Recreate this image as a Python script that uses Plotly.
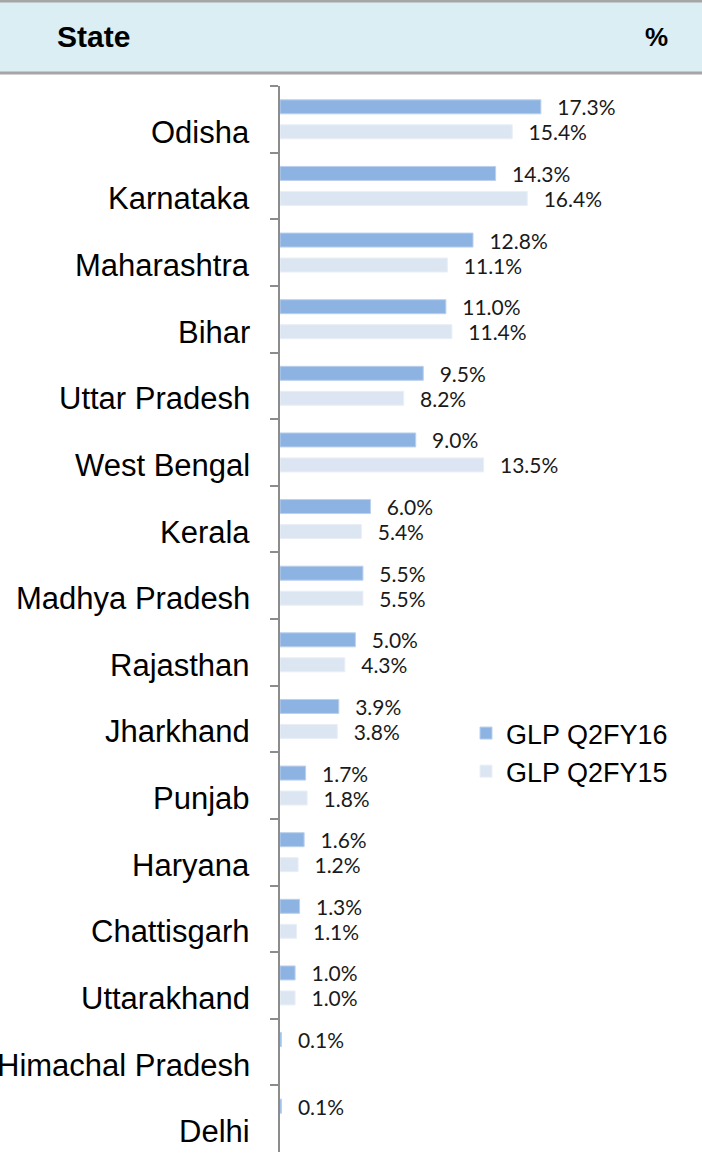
import plotly.graph_objects as go

states = ["Odisha", "Karnataka", "Maharashtra", "Bihar", "Uttar Pradesh", "West Bengal",
          "Kerala", "Madhya Pradesh", "Rajasthan", "Jharkhand", "Punjab", "Haryana",
          "Chattisgarh", "Uttarakhand", "Himachal Pradesh", "Delhi"]
glp_q2fy16 = [17.3, 14.3, 12.8, 11.0, 9.5, 9.0, 6.0, 5.5, 5.0, 3.9, 1.7, 1.6, 1.3, 1.0, 0.1, 0.1]
glp_q2fy15 = [15.4, 16.4, 11.1, 11.4, 8.2, 13.5, 5.4, 5.5, 4.3, 3.8, 1.8, 1.2, 1.1, 1.0, None, None]
series_names = ["GLP Q2FY16", "GLP Q2FY15"]

W, H = 702, 1153
ML, MR, MT, MB = 280, 0, 86, 1
PW, PH = W - ML - MR, H - MT - MB
X_MAX = PW / 15.08


def px_x(p):
    return (p - ML) / PW


def px_y(p):
    return (H - MB - p) / PH


LABEL_FONT = dict(family="Lato, Carlito, Calibri, sans-serif", size=21, color="#1a1a1a")
PAD = "\u00a0\u00a0\u2009"
ARIAL = "Liberation Sans, Arial, sans-serif"

fig = go.Figure()
fig.add_trace(go.Bar(
    y=states, x=glp_q2fy16, orientation="h", name=series_names[0],
    marker=dict(color="#8DB3E2", line=dict(color="#BBD0EC", width=1)),
    text=[PAD + f"{v:.1f}%" if v is not None else "" for v in glp_q2fy16],
    textposition="outside", textfont=LABEL_FONT, cliponaxis=False, constraintext="none",
    legendgroup="a",
))
fig.add_trace(go.Bar(
    y=states, x=glp_q2fy15, orientation="h", name=series_names[1],
    marker=dict(color="#DCE6F2", line=dict(color="#E9EFF7", width=1)),
    text=[PAD + f"{v:.1f}%" if v is not None else "" for v in glp_q2fy15],
    textposition="outside", textfont=LABEL_FONT, cliponaxis=False, constraintext="none",
    legendgroup="b",
))

annotations = []
for s in states:
    annotations.append(dict(
        x=px_x(252), xref="paper", xanchor="right",
        y=s, yref="y", yanchor="middle", yshift=-13,
        text=s, showarrow=False,
        font=dict(family=ARIAL, size=31, color="#000000"),
    ))

annotations.append(dict(
    x=px_x(55), xref="paper", xanchor="left", y=px_y(37), yref="paper", yanchor="middle",
    text="<b>State</b>", showarrow=False,
    font=dict(family=ARIAL, size=30, color="#000000"),
))
annotations.append(dict(
    x=px_x(670), xref="paper", xanchor="right", y=px_y(37), yref="paper", yanchor="middle",
    text="<b>%</b>", showarrow=False,
    font=dict(family=ARIAL, size=26, color="#000000"),
))

shapes = [
    dict(type="rect", xref="paper", yref="paper", x0=px_x(0), x1=px_x(W), y0=px_y(74), y1=px_y(0),
         fillcolor="#DAEEF3", line=dict(width=0), layer="below"),
    dict(type="line", xref="paper", yref="paper", x0=px_x(0), x1=px_x(W), y0=px_y(1), y1=px_y(1),
         line=dict(color="#A6A6A6", width=3)),
    dict(type="line", xref="paper", yref="paper", x0=px_x(0), x1=px_x(W), y0=px_y(73), y1=px_y(73),
         line=dict(color="#A6A6A6", width=3)),
]

fig.update_layout(
    width=W, height=H,
    margin=dict(l=ML, r=MR, t=MT, b=MB),
    paper_bgcolor="white", plot_bgcolor="white",
    barmode="group", bargap=0.25, bargroupgap=0.44,
    showlegend=True,
    legend=dict(x=px_x(466), y=px_y(709), xanchor="left", yanchor="top",
                font=dict(family=ARIAL, size=27, color="#000000"),
                tracegroupgap=19, bgcolor="rgba(0,0,0,0)", traceorder="normal"),
    annotations=annotations,
    shapes=shapes,
)
fig.update_xaxes(range=[0, X_MAX], visible=False, showgrid=False, zeroline=False)
fig.update_yaxes(
    categoryorder="array", categoryarray=states, autorange="reversed",
    showticklabels=False, showgrid=False, zeroline=False,
    showline=True, linecolor="#8C8C8C", linewidth=2,
    ticks="outside", tickson="boundaries", ticklen=8, tickcolor="#8C8C8C", tickwidth=2,
)

fig.write_html("out.html", config={"displayModeBar": False},
               post_script="document.body.style.margin='0px';document.body.style.overflow='hidden';")
